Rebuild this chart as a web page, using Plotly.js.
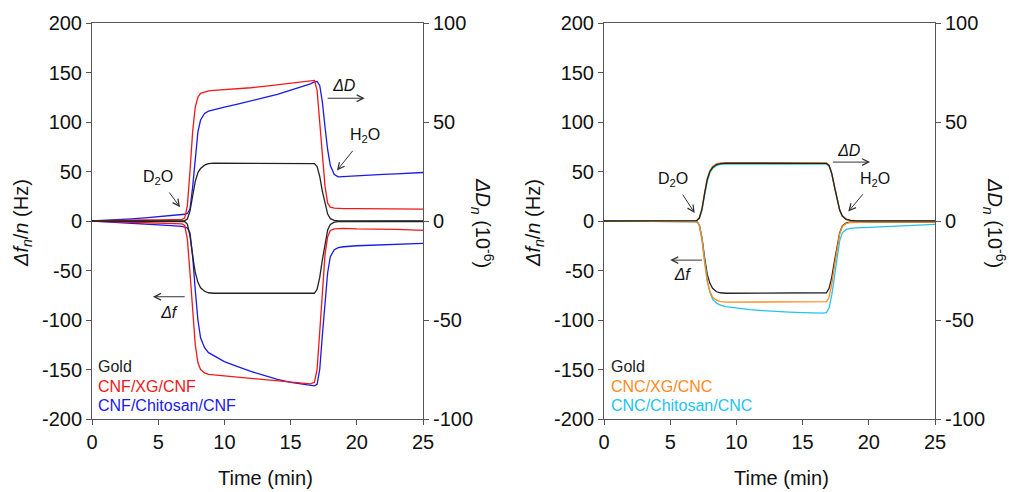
<!DOCTYPE html>
<html>
<head>
<meta charset="utf-8">
<script src="https://cdn.plot.ly/plotly-3.0.1.min.js"></script>
<style>html,body{margin:0;padding:0;background:#fff;}</style>
</head>
<body>
<div id="chart" style="width:1009px;height:492px;"></div>
<script>
// Time (min)
const time = [0,1,2,3,4,5,6,6.8,7.0,7.2,7.4,7.6,7.8,8.0,8.2,8.5,8.8,9.2,10,11,12,13,14,15,16,16.5,16.8,17.0,17.2,17.4,17.6,17.8,18.0,18.3,18.6,19,20,21,22,23,24,25];

// Left panel: dissipation (10^-6)
const goldDD_L = [0,0,0,0,0,0,0,0, 0.2,1,5,12.5,20,24.5,26.5,28.2,29,29.2, 29.2,29.2,29.2,29.2,29.2,29.2,29.2,29.2, 29, 27.5,22.5,15,8.5,3.5,1.2,0.3,0.1, 0,0,0,0,0,0,0];
const cnfXgDD = [0,0.2,0.3,0.4,0.5,0.6,0.7,0.8, 1.5,7.5,25,45,57.5,62.5,64.5,65.3,65.7,66, 66.3,66.8,67.3,68,68.8,69.5,70.2,70.8, 71, 66,50,32.5,17.5,9,7,6.5,6.3, 6.3,6.2,6.2,6.1,6.1,6,6];
const cnfChiDD = [0,0.3,0.7,1.1,1.6,2.1,2.7,3.2, 3.4,3.8,6,17,33,45,51,54.3,55.5,56.3, 57.5,59,60.5,62.3,64,66,68,69.3, 70.3, 70.5,68.5,60,47.5,36,28,23.5,22.3, 22.4,22.8,23.2,23.5,23.8,24.2,24.5];
// Left panel: frequency (Hz)
const goldDf_L = [0,0,0,0,0,0,0,0, -0.5,-3,-15,-35,-52,-62,-67.5,-71,-72.5,-73, -73,-73,-73,-73,-73,-73,-73,-73, -73, -69,-57,-39,-22,-9,-3.5,-1.2,-0.6, -0.5,-0.5,-0.5,-0.5,-0.5,-0.5,-0.5];
const cnfXgDf = [0,-0.4,-0.8,-1.2,-1.6,-2,-2.5,-3, -4.5,-18,-52,-92,-125,-143,-150,-153.5,-155,-155.5, -156.5,-157.5,-159,-160.5,-161.5,-163,-164,-164.5, -163, -150,-112,-68,-34,-16,-9.5,-8,-7.5, -7.5,-8,-8,-8.5,-8.5,-9,-9.5];
const cnfChiDf = [0,-0.7,-1.4,-2.2,-3,-3.8,-4.7,-5.5, -6,-7,-12,-35,-70,-100,-118,-128,-133,-136, -142,-147,-152,-156,-160,-163,-165,-166, -166.5, -165,-150,-115,-80,-52,-36,-29,-27, -26,-25,-24.5,-24,-23.5,-23,-22.5];

// Right panel: dissipation (10^-6)
const goldDD_R = [0,0,0,0,0,0,0,0, 0.2,1.5,6,14,21,25,27,28.5,29,29.2, 29.2,29.2,29.2,29.2,29.2,29.2,29.2,29.2, 29.1, 28,24,17.5,11,5.5,2.5,0.8,0.3, 0.1,0.1,0.1,0.1,0.1,0.1,0.1];
const cncXgDD = [0,0,0,0,0,0,0,0, 0.2,1.5,6.2,14.5,21.5,25.5,27.5,29,29.4,29.5, 29.5,29.5,29.5,29.5,29.5,29.5,29.5,29.5, 29.4, 28.2,24.2,17.7,11.2,5.6,2.6,0.9,0.4, 0.2,0.2,0.2,0.2,0.2,0.2,0.2];
const cncChiDD = [0,0,0,0,0,0,0,0, 0.2,1.3,5.5,13,20,24.5,26.5,28,28.6,28.8, 28.8,28.8,28.8,28.8,28.8,28.8,28.8,28.8, 28.7, 27.8,24,17.5,11,5.5,2.5,0.8,0.3, 0.1,0.1,0.1,0.1,0.1,0.1,0.1];
// Right panel: frequency (Hz)
const goldDf_R = [0,0,0,0,0,0,0,0, -0.5,-4,-17,-37,-54,-63,-68,-71.5,-72.5,-73, -73,-73,-73,-73,-73,-73,-73,-73, -72.5, -68,-57,-41,-25,-12,-5,-2,-1.2, -1,-1,-1,-1,-1,-1,-1];
const cncXgDf = [0,0,0,0,0,0,0,0, -0.5,-4.5,-19,-42,-61,-71,-77,-80,-81.5,-82, -82,-82,-82,-82,-82,-82,-82,-82, -81.5, -77,-64,-46,-28,-13,-5.5,-2.3,-1.5, -1.2,-1.2,-1.2,-1.2,-1.2,-1.2,-1.2];
const cncChiDf = [0,0,0,0,0,0,0,0, -0.5,-4,-18,-40,-60,-72,-79,-83,-85,-86.5, -88,-89.5,-90.5,-91.5,-92,-92.5,-93,-93, -92.5, -88,-75,-55,-35,-20,-12,-8.5,-7.5, -7,-6.5,-6,-5,-4.5,-4,-3.5];

// Tick labels
const xTickVals = [0,5,10,15,20,25];
const xTickText = ['0','5','10','15','20','25'];
const fTickVals = [-200,-150,-100,-50,0,50,100,150,200];
const fTickText = ['-200','-150','-100','-50','0','50','100','150','200'];
const dTickVals = [-100,-50,0,50,100];
const dTickText = ['-100','-50','0','50','100'];

const labelsLeft = ['Gold','CNF/XG/CNF','CNF/Chitosan/CNF'];
const labelsRight = ['Gold','CNC/XG/CNC','CNC/Chitosan/CNC'];

const C_BLACK = '#222222', C_RED = '#f01818', C_BLUE = '#1a1ae6', C_ORANGE = '#ff8a1c', C_CYAN = '#22c3f2';
const LW = 1.3;

function tr(y, xa, ya, color) {
  return {x: time, y: y, xaxis: xa, yaxis: ya, type: 'scatter', mode: 'lines',
          line: {color: color, width: LW}, showlegend: false, hoverinfo: 'skip'};
}

const data = [
  tr(cnfChiDD, 'x', 'y2', C_BLUE),
  tr(cnfXgDD, 'x', 'y2', C_RED),
  tr(goldDD_L, 'x', 'y2', C_BLACK),
  tr(cnfChiDf, 'x', 'y', C_BLUE),
  tr(cnfXgDf, 'x', 'y', C_RED),
  tr(goldDf_L, 'x', 'y', C_BLACK),
  tr(cncChiDD, 'x2', 'y4', C_CYAN),
  tr(cncXgDD, 'x2', 'y4', C_ORANGE),
  tr(goldDD_R, 'x2', 'y4', C_BLACK),
  tr(goldDf_R, 'x2', 'y3', C_BLACK),
  tr(cncChiDf, 'x2', 'y3', C_CYAN),
  tr(cncXgDf, 'x2', 'y3', C_ORANGE)
];

const FONT = 'Liberation Sans, Arial, sans-serif';
const AX = '#555555';
function xax(domain, anchor) {
  return {domain: domain, anchor: anchor, range: [0, 25], showline: true, linecolor: AX, linewidth: 1,
          mirror: true, ticks: 'outside', ticklen: 5, tickcolor: AX, tickwidth: 1,
          tickmode: 'array', tickvals: xTickVals, ticktext: xTickText,
          showgrid: false, zeroline: false, tickfont: {size: 20, family: FONT, color: '#111'}, fixedrange: true};
}
function yax(anchor, extra) {
  return Object.assign({anchor: anchor, domain: [0, 1], range: [-200, 200], showline: true, linecolor: AX, linewidth: 1,
          ticks: 'outside', ticklen: 5, tickcolor: AX, tickwidth: 1,
          tickmode: 'array', tickvals: fTickVals, ticktext: fTickText,
          showgrid: false, zeroline: false, tickfont: {size: 20, family: FONT, color: '#111'}, fixedrange: true}, extra || {});
}

const annFont = {family: FONT, size: 16, color: '#111'};
const ARROW = {showarrow: true, arrowhead: 5, arrowsize: 1.3, arrowwidth: 1, arrowcolor: '#333', standoff: 0};

// label sitting at the arrow tail (text centre = tail), arrow leaves the box edge
function pointer(xr, yr, tx, ty, hx, hy, text, sso) {
  return Object.assign({xref: xr, yref: yr, axref: xr, ayref: yr, x: hx, y: hy, ax: tx, ay: ty, text: text,
          font: annFont, startstandoff: sso}, ARROW);
}
// label beside a horizontal arrow: box corner pinned on the tail
function sideArrow(xr, yr, tx, ty, hx, text, xa, ya, w, h) {
  return Object.assign({xref: xr, yref: yr, axref: xr, ayref: yr, x: hx, y: ty, ax: tx, ay: ty, text: text,
          font: annFont, xanchor: xa, yanchor: ya, width: w, height: h, align: 'center', valign: 'middle',
          startstandoff: 0, borderpad: 0}, ARROW);
}
function legendItem(xr, yr, x, y, text, color) {
  return {xref: xr, yref: yr, x: x, y: y, text: text, showarrow: false, xanchor: 'left', yanchor: 'middle',
          font: {family: FONT, size: 16, color: color}};
}

const annotations = [
  // Left panel
  pointer('x', 'y', 5.0, 44, 6.65, 14, 'D<sub>2</sub>O', 5),
  pointer('x', 'y', 20.6, 86, 18.5, 51, 'H<sub>2</sub>O', 5),
  sideArrow('x', 'y', 17.8, 124, 20.6, '<i>ΔD</i>', 'left', 'bottom', 30, 23),
  sideArrow('x', 'y', 7.0, -76.5, 4.6, '<i>Δf</i>', 'right', 'top', 30, 28),
  legendItem('x', 'y', 0.3, -147, labelsLeft[0], C_BLACK),
  legendItem('x', 'y', 0.3, -167, labelsLeft[1], C_RED),
  legendItem('x', 'y', 0.3, -186.5, labelsLeft[2], C_BLUE),
  // Right panel
  pointer('x2', 'y3', 5.2, 42, 6.85, 8, 'D<sub>2</sub>O', 5),
  pointer('x2', 'y3', 20.5, 42, 18.45, 9.5, 'H<sub>2</sub>O', 5),
  sideArrow('x2', 'y3', 17.3, 59.5, 20.1, '<i>ΔD</i>', 'left', 'bottom', 30, 22),
  sideArrow('x2', 'y3', 7.4, -39.5, 5.0, '<i>Δf</i>', 'right', 'top', 37, 27),
  legendItem('x2', 'y3', 0.4, -147, labelsRight[0], C_BLACK),
  legendItem('x2', 'y3', 0.4, -167, labelsRight[1], C_ORANGE),
  legendItem('x2', 'y3', 0.4, -186.5, labelsRight[2], C_CYAN),
  // Axis titles
  {xref: 'paper', yref: 'paper', x: (265 - 92) / 843, y: -0.149, text: 'Time (min)', showarrow: false,
   xanchor: 'center', yanchor: 'middle', font: {family: FONT, size: 20, color: '#111'}},
  {xref: 'paper', yref: 'paper', x: (781 - 92) / 843, y: -0.149, text: 'Time (min)', showarrow: false,
   xanchor: 'center', yanchor: 'middle', font: {family: FONT, size: 20, color: '#111'}},
  {xref: 'paper', yref: 'paper', x: (23 - 92) / 843, y: 0.495, text: '<i>Δf</i><sub><i>n</i></sub>/<i>n</i> (Hz)', showarrow: false,
   textangle: -90, xanchor: 'center', yanchor: 'middle', font: {family: FONT, size: 20, color: '#111'}},
  {xref: 'paper', yref: 'paper', x: (535 - 92) / 843, y: 0.495, text: '<i>Δf</i><sub><i>n</i></sub>/<i>n</i> (Hz)', showarrow: false,
   textangle: -90, xanchor: 'center', yanchor: 'middle', font: {family: FONT, size: 20, color: '#111'}},
  {xref: 'paper', yref: 'paper', x: (482 - 92) / 843, y: 0.495, text: '<i>ΔD</i><sub><i>n</i></sub> (10<sup>-6</sup>)', showarrow: false,
   textangle: 90, xanchor: 'center', yanchor: 'middle', font: {family: FONT, size: 20, color: '#111'}},
  {xref: 'paper', yref: 'paper', x: (994 - 92) / 843, y: 0.495, text: '<i>ΔD</i><sub><i>n</i></sub> (10<sup>-6</sup>)', showarrow: false,
   textangle: 90, xanchor: 'center', yanchor: 'middle', font: {family: FONT, size: 20, color: '#111'}}
];

const layout = {
  width: 1009, height: 492,
  margin: {l: 92, r: 74, t: 23, b: 73, pad: 0},
  paper_bgcolor: '#ffffff', plot_bgcolor: '#ffffff',
  showlegend: false,
  font: {family: FONT, size: 20, color: '#111'},
  xaxis: xax([0, (423 - 92) / 843], 'y'),
  yaxis: yax('x'),
  yaxis2: yax('x', {overlaying: 'y', side: 'right', range: [-100, 100], tickvals: dTickVals, ticktext: dTickText}),
  xaxis2: xax([(604 - 92) / 843, 1], 'y3'),
  yaxis3: yax('x2'),
  yaxis4: yax('x2', {overlaying: 'y3', side: 'right', range: [-100, 100], tickvals: dTickVals, ticktext: dTickText}),
  annotations: annotations
};

Plotly.newPlot('chart', data, layout, {displayModeBar: false, staticPlot: true});
</script>
</body>
</html>
